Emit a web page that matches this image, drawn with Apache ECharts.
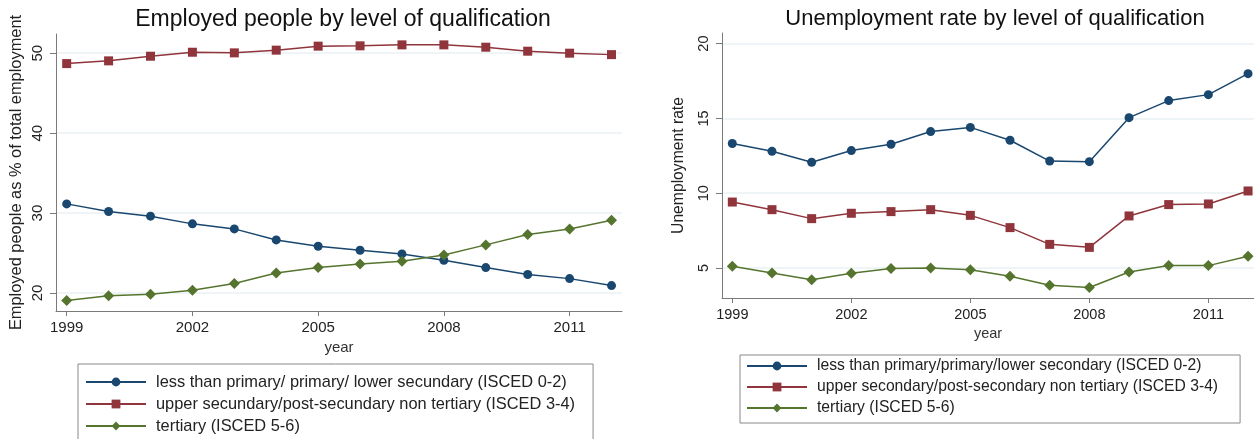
<!DOCTYPE html>
<html><head><meta charset="utf-8">
<script src="https://cdn.jsdelivr.net/npm/echarts@6/dist/echarts.min.js"></script>
<style>html,body{margin:0;padding:0;background:#fff;overflow:hidden}#c{width:1254px;height:439px}</style>
</head><body><div id="c"></div>
<script>
// ---- data ----
const years = [1999,2000,2001,2002,2003,2004,2005,2006,2007,2008,2009,2010,2011,2012];
const xTickYears = [1999,2002,2005,2008,2011];
const empTicks = [20,30,40,50];
const unempTicks = [5,10,15,20];

const leftTitle = 'Employed people by level of qualification';
const rightTitle = 'Unemployment rate by level of qualification';
const leftYName = 'Employed people as % of total employment';
const rightYName = 'Unemployment rate';
const xName = 'year';

const leftNames = ['less than primary/ primary/ lower secundary (ISCED 0-2)',
                   'upper secundary/post-secundary non tertiary (ISCED 3-4)',
                   'tertiary (ISCED 5-6)'];
const rightNames = ['less than primary/primary/lower secondary (ISCED 0-2)',
                    'upper secondary/post-secondary non tertiary (ISCED 3-4)',
                    'tertiary (ISCED 5-6) '];

const empLow  = [31.15,30.2,29.61,28.65,28.02,26.64,25.85,25.35,24.89,24.1,23.18,22.31,21.8,20.93];
const empMid  = [48.7,49.04,49.62,50.12,50.04,50.38,50.88,50.92,51.04,51.04,50.75,50.25,50.0,49.82];
const empHigh = [19.05,19.67,19.84,20.34,21.18,22.5,23.18,23.63,23.97,24.76,26.02,27.33,28.02,29.11];

const unLow  = [13.32,12.8,12.07,12.85,13.27,14.12,14.4,13.54,12.15,12.11,15.05,16.19,16.59,17.99];
const unMid  = [9.41,8.9,8.3,8.66,8.77,8.9,8.52,7.7,6.58,6.38,8.48,9.24,9.28,10.15];
const unHigh = [5.11,4.67,4.22,4.65,4.96,5.0,4.89,4.45,3.85,3.7,4.73,5.16,5.16,5.78];

// ---- styles ----
const C_NAVY = '#1a476f', C_MAROON = '#90353b', C_GREEN = '#55752f';
const FONT = '"Liberation Sans", Arial, sans-serif';
const pair = arr => years.map((y, i) => [y, arr[i]]);

function mkSeries(name, data, color, symbol, size, xi) {
  return {
    name, type: 'line', xAxisIndex: xi, yAxisIndex: xi, data: pair(data),
    symbol, symbolSize: size, showSymbol: true,
    lineStyle: { color, width: 1.5 },
    itemStyle: { color, borderWidth: 0 },
    emphasis: { disabled: true }, animation: false
  };
}

function xAxis(gi, min, max, fs, gap) {
  return {
    type: 'value', gridIndex: gi, min, max,
    name: xName, nameLocation: 'middle', nameGap: gap,
    nameTextStyle: { fontFamily: FONT, fontSize: fs, color: '#333' },
    axisLine: { show: true, lineStyle: { color: '#7a7a7a', width: 1 } },
    axisTick: { show: true, length: 5, customValues: xTickYears, lineStyle: { color: '#7a7a7a' } },
    axisLabel: { customValues: xTickYears, fontFamily: FONT, fontSize: fs, color: '#222', margin: 9, formatter: v => String(v) },
    splitLine: { show: false }
  };
}
function yAxis(gi, min, max, ticks, name, gap, fs, nfs) {
  return {
    type: 'value', gridIndex: gi, min, max,
    name, nameLocation: 'middle', nameGap: gap, nameRotate: 90,
    nameTextStyle: { fontFamily: FONT, fontSize: nfs, color: '#222' },
    axisLine: { show: true, lineStyle: { color: '#7a7a7a', width: 1 } },
    axisTick: { show: true, length: 6, customValues: ticks, lineStyle: { color: '#7a7a7a' } },
    axisLabel: { customValues: ticks, rotate: 90, fontFamily: FONT, fontSize: fs, color: '#222', margin: 11 },
    splitLine: { show: true, lineStyle: { color: '#eaf2f3', width: 1.5 } }
  };
}
function legend(names, left, top, padding, gap, fs) {
  return {
    data: names, orient: 'vertical', left, top, height: 140, padding, itemGap: gap,
    itemWidth: 60, itemHeight: 11, selectedMode: false,
    borderColor: '#888', borderWidth: 1, borderRadius: 0,
    textStyle: { fontFamily: FONT, fontSize: fs, lineHeight: 16, color: '#222', padding: [0, 0, 0, 5] }
  };
}

const chart = echarts.init(document.getElementById('c'), null, { renderer: 'canvas' });
chart.setOption({
  backgroundColor: '#fff',
  animation: false,
  title: [
    { text: leftTitle, left: 338, top: 3, textAlign: 'center',
      textStyle: { fontFamily: FONT, fontSize: 23, fontWeight: 'normal', color: '#111' } },
    { text: rightTitle, left: 990, top: 3, textAlign: 'center',
      textStyle: { fontFamily: FONT, fontSize: 22, fontWeight: 'normal', color: '#111' } }
  ],
  grid: [
    { left: 56, top: 34, width: 566, height: 277, containLabel: false },
    { left: 722, top: 33, width: 532, height: 265, containLabel: false }
  ],
  xAxis: [ xAxis(0, 1998.745, 2012.25, 15, 26), xAxis(1, 1998.74, 2012.15, 14.5, 25) ],
  yAxis: [ yAxis(0, 17.75, 52.4, empTicks, leftYName, 32, 15, 16.4), yAxis(1, 2.995, 20.71, unempTicks, rightYName, 35, 14.5, 15.7) ],
  legend: [
    legend(leftNames, 78, 364, [10, 18, 10, 7], 6, 16.4),
    legend(rightNames, 740, 355, [3, 22, 7, 6], 5, 15.7)
  ],
  series: [
    mkSeries(leftNames[0], empLow, C_NAVY, 'circle', 9, 0),
    mkSeries(leftNames[1], empMid, C_MAROON, 'rect', 9, 0),
    mkSeries(leftNames[2], empHigh, C_GREEN, 'diamond', 11, 0),
    mkSeries(rightNames[0], unLow, C_NAVY, 'circle', 9, 1),
    mkSeries(rightNames[1], unMid, C_MAROON, 'rect', 9, 1),
    mkSeries(rightNames[2], unHigh, C_GREEN, 'diamond', 11, 1)
  ]
});
</script></body></html>
